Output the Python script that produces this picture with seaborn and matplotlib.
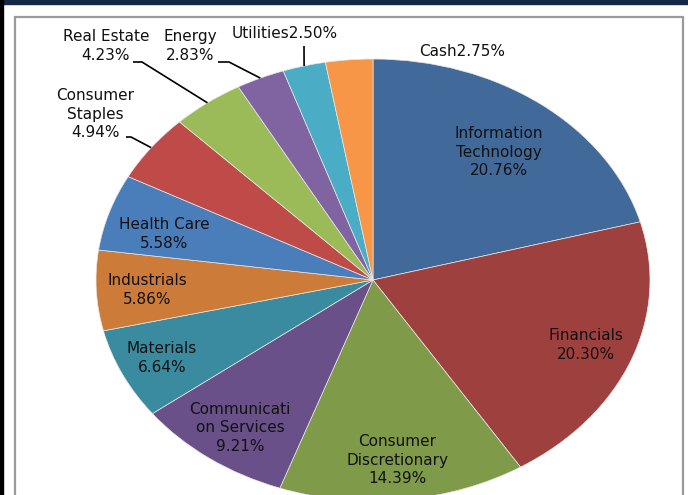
import numpy as np
import seaborn as sns
import matplotlib.pyplot as plt
from matplotlib.patches import Rectangle

# sector weights, clockwise from 12 o'clock
sectors = ['Information\nTechnology', 'Financials', 'Consumer\nDiscretionary',
           'Communicati\non Services', 'Materials', 'Industrials', 'Health Care',
           'Consumer\nStaples', 'Real Estate', 'Energy', 'Utilities', 'Cash']
weights = [20.76, 20.30, 14.39, 9.21, 6.64, 5.86, 5.58, 4.94, 4.23, 2.83, 2.50, 2.75]
colors = ['#41699A', '#9E413E', '#7F9A48', '#6A5088', '#3B8BA0', '#CC7B38',
          '#4A7EBB', '#BE4B48', '#9BBB59', '#8064A2', '#4BACC6', '#F79646']

# layout of the picture, in pixels
W, H = 688, 495
CX, CY, RX, RY = 373, 280, 277, 221


def px(x, y):
    """pixel position -> normalised pie coordinates"""
    return (x - CX) / RX, (CY - y) / RY


def edge(i):
    """point on the rim at the middle of wedge i"""
    cum = np.cumsum([0] + weights) / sum(weights)
    ang = np.deg2rad(90 - 360 * (cum[i] + cum[i + 1]) / 2)
    return np.cos(ang), np.sin(ang)


sns.set_theme(style='white')
plt.rcParams['font.family'] = ['DejaVu Sans']

fig = plt.figure(figsize=(W / 100, H / 100), dpi=100)
ax = fig.add_axes([0, 0, 1, 1])

ax.pie(weights, colors=sns.color_palette(colors), startangle=90, counterclock=False,
       radius=1, center=(0, 0),
       wedgeprops=dict(edgecolor='#e8e8e8', linewidth=0.5))
ax.set_aspect('auto')
ax.set_xlim(-CX / RX, (W - CX) / RX)
ax.set_ylim(-(H - CY) / RY, CY / RY)
ax.axis('off')

# labels inside the wedges
inside = {0: (499, 152), 1: (586, 345), 2: (397, 460), 3: (240, 428),
          4: (162, 358), 5: (147, 290), 6: (164, 234)}
for i, (x, y) in inside.items():
    ax.text(*px(x, y), f'{sectors[i]}\n{weights[i]:.2f}%', ha='center', va='center',
            fontsize=11, color='#111111', linespacing=1.3)

# labels outside with leader lines
outside = {7: (95, 114), 8: (106, 46), 9: (190, 46)}
leaders = {7: [(126, 137), (131, 137)], 8: [(133, 62), (142, 62)],
           9: [(218, 62), (229, 62)], 10: [(304, 46)]}
for i, (x, y) in outside.items():
    ax.text(*px(x, y), f'{sectors[i]}\n{weights[i]:.2f}%', ha='center', va='center',
            fontsize=11, color='#111111', linespacing=1.3)
ax.text(*px(285, 33), f'{sectors[10]}{weights[10]:.2f}%', ha='center', va='center',
        fontsize=11, color='#111111')
ax.text(*px(462, 52), f'{sectors[11]}{weights[11]:.2f}%', ha='center', va='center',
        fontsize=11, color='#111111')
for i, pts in leaders.items():
    xy = [px(*p) for p in pts] + [edge(i)]
    ax.plot([p[0] for p in xy], [p[1] for p in xy], color='black', lw=1.2,
            solid_capstyle='butt')

# frame: dark band on top / left, grey chart border
fig.patches.append(Rectangle((0, 1 - 4 / H), 1, 4 / H, transform=fig.transFigure,
                             color='#14284A', zorder=5))
fig.patches.append(Rectangle((0, 0), 2.5 / W, 1, transform=fig.transFigure,
                             color='#000000', zorder=5))
fig.patches.append(Rectangle((15.5 / W, -0.1), (683 - 15.5) / W, 1.1 - 17 / H,
                             transform=fig.transFigure, fill=False,
                             edgecolor='#9a9a9a', lw=1.6, zorder=5))

fig.savefig('out.png', dpi=100)
